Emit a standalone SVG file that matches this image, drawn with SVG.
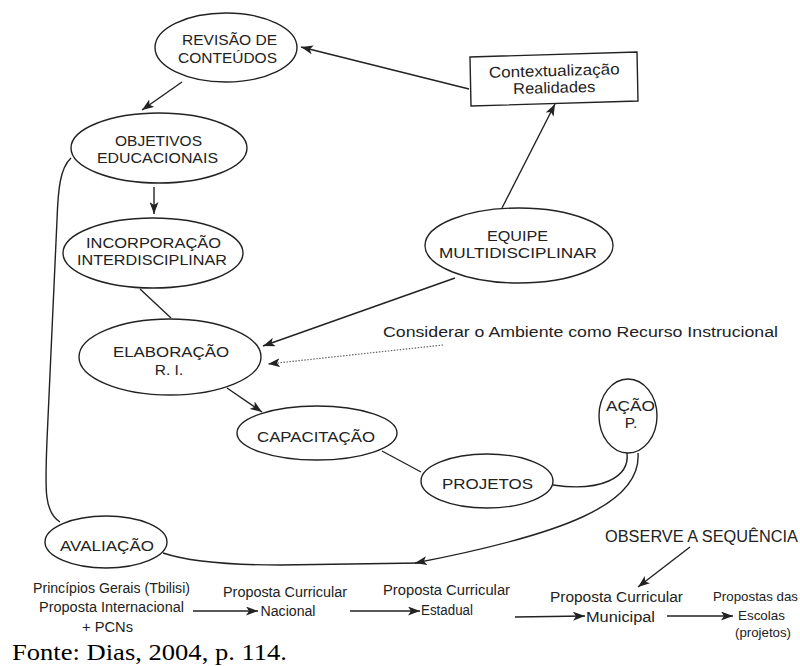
<svg xmlns="http://www.w3.org/2000/svg" width="800" height="666" viewBox="0 0 800 666">
<style>
.n{fill:#fff;stroke:#222;stroke-width:1.4}
.t{font-family:"Liberation Sans",Arial,sans-serif;font-size:15.5px;fill:#222;text-anchor:middle}
.s{font-family:"Liberation Sans",Arial,sans-serif;font-size:14px;fill:#222;text-anchor:middle}
.c{fill:none;stroke:#222;stroke-width:1.4}
.d{fill:none;stroke:#666;stroke-width:1.2;stroke-dasharray:1.5 1.5}
</style>
<defs>
<marker id="a" markerUnits="userSpaceOnUse" markerWidth="13" markerHeight="9" refX="12" refY="4.5" orient="auto">
<path d="M0,0 L12,4.5 L0,9 L3,4.5 z" fill="#222"/>
</marker>
</defs>
<rect width="800" height="666" fill="#fff"/>
<g id="connectors">
<line class="c" x1="469" y1="89" x2="301" y2="47" marker-end="url(#a)"/>
<line class="c" x1="182" y1="82" x2="142" y2="110" marker-end="url(#a)"/>
<line class="c" x1="154" y1="187" x2="154" y2="214" marker-end="url(#a)"/>
<line class="c" x1="140" y1="289" x2="171" y2="318"/>
<line class="c" x1="502" y1="208" x2="555" y2="104" marker-end="url(#a)"/>
<line class="c" x1="455" y1="278" x2="263" y2="346" marker-end="url(#a)"/>
<line class="d" x1="443" y1="345" x2="268" y2="364" marker-end="url(#a)"/>
<line class="c" x1="227" y1="388" x2="262" y2="412" marker-end="url(#a)"/>
<line class="c" x1="382" y1="451" x2="421" y2="472"/>
<path class="c" d="M553,485 C600,492 630,478 627,453"/>
<path class="c" d="M638,453 C642,505 560,535 415,563" marker-end="url(#a)"/>
<path class="c" d="M420,563 L280,565 C230,565 190,562 163,553"/>
<path class="c" d="M71,158 C60,168 58,190 57,220 L47,440 C45,490 44,512 60,522"/>
<line class="c" x1="690" y1="547" x2="638" y2="587" marker-end="url(#a)"/>
<line class="c" x1="193" y1="611" x2="258" y2="611" marker-end="url(#a)"/>
<line class="c" x1="350" y1="611" x2="420" y2="611" marker-end="url(#a)"/>
<line class="c" x1="515" y1="617" x2="585" y2="616" marker-end="url(#a)"/>
<line class="c" x1="667" y1="616" x2="733" y2="616" marker-end="url(#a)"/>
</g>
<g id="revisao">
<ellipse class="n" cx="226" cy="47.5" rx="71" ry="34.5"/>
<text class="t" x="229.5" y="45" textLength="95" lengthAdjust="spacingAndGlyphs">REVISÃO DE</text>
<text class="t" x="227.5" y="63" textLength="99" lengthAdjust="spacingAndGlyphs">CONTEÚDOS</text>
</g>
<g id="contextualizacao">
<polygon class="n" points="470,57 637,52 638,101 471,106"/>
<g transform="rotate(-1.5 554 80)">
<text class="t" x="554.5" y="76" textLength="131" lengthAdjust="spacingAndGlyphs">Contextualização</text>
<text class="t" x="554" y="93" textLength="82" lengthAdjust="spacingAndGlyphs">Realidades</text>
</g>
</g>
<g id="objetivos">
<ellipse class="n" cx="159" cy="148" rx="88" ry="35"/>
<text class="t" x="158.5" y="146" textLength="87" lengthAdjust="spacingAndGlyphs">OBJETIVOS</text>
<text class="t" x="157.5" y="163" textLength="121" lengthAdjust="spacingAndGlyphs">EDUCACIONAIS</text>
</g>
<g id="incorporacao">
<ellipse class="n" cx="153" cy="253" rx="90" ry="35"/>
<text class="t" x="153.5" y="248" textLength="135" lengthAdjust="spacingAndGlyphs">INCORPORAÇÃO</text>
<text class="t" x="152" y="265" textLength="150" lengthAdjust="spacingAndGlyphs">INTERDISCIPLINAR</text>
</g>
<g id="equipe">
<ellipse class="n" cx="519" cy="245.5" rx="94" ry="37.5"/>
<text class="t" x="517.5" y="241" textLength="61" lengthAdjust="spacingAndGlyphs">EQUIPE</text>
<text class="t" x="518" y="258" textLength="158" lengthAdjust="spacingAndGlyphs">MULTIDISCIPLINAR</text>
</g>
<g id="considerar">
<text class="t" x="383" y="337" style="text-anchor:start" textLength="395" lengthAdjust="spacingAndGlyphs">Considerar o Ambiente como Recurso Instrucional</text>
</g>
<g id="elaboracao">
<ellipse class="n" cx="170" cy="357" rx="91" ry="38"/>
<text class="t" x="171" y="357" textLength="116" lengthAdjust="spacingAndGlyphs">ELABORAÇÃO</text>
<text class="t" x="169" y="375">R. I.</text>
</g>
<g id="capacitacao">
<ellipse class="n" cx="317" cy="433" rx="80" ry="27"/>
<text class="t" x="316" y="442" textLength="118" lengthAdjust="spacingAndGlyphs">CAPACITAÇÃO</text>
</g>
<g id="projetos">
<ellipse class="n" cx="487" cy="481" rx="66" ry="27"/>
<text class="t" x="487.5" y="489" textLength="91" lengthAdjust="spacingAndGlyphs">PROJETOS</text>
</g>
<g id="acao">
<ellipse class="n" cx="628" cy="416" rx="29" ry="37"/>
<text class="t" x="630.5" y="411" textLength="49" lengthAdjust="spacingAndGlyphs">AÇÃO</text>
<text class="t" x="631" y="428">P.</text>
</g>
<g id="avaliacao">
<ellipse class="n" cx="106" cy="542" rx="61" ry="26"/>
<text class="t" x="107" y="551" textLength="94" lengthAdjust="spacingAndGlyphs">AVALIAÇÃO</text>
</g>
<g id="observe">
<text class="t" x="701.5" y="542" style="font-size:16px" textLength="193" lengthAdjust="spacingAndGlyphs">OBSERVE A SEQUÊNCIA</text>
</g>
<g id="internacional">
<text class="s" x="111.5" y="593" textLength="157" lengthAdjust="spacingAndGlyphs">Princípios Gerais (Tbilisi)</text>
<text class="s" x="111.5" y="612" textLength="145" lengthAdjust="spacingAndGlyphs">Proposta Internacional</text>
<text class="s" x="107.5" y="632" textLength="51" lengthAdjust="spacingAndGlyphs">+ PCNs</text>
</g>
<g id="nacional">
<text class="s" x="285" y="597" textLength="124" lengthAdjust="spacingAndGlyphs">Proposta Curricular</text>
<text class="s" x="288" y="616" textLength="55" lengthAdjust="spacingAndGlyphs">Nacional</text>
</g>
<g id="estadual">
<text class="s" x="446.5" y="595" textLength="127" lengthAdjust="spacingAndGlyphs">Proposta Curricular</text>
<text class="s" x="447" y="615" textLength="52" lengthAdjust="spacingAndGlyphs">Estadual</text>
</g>
<g id="municipal">
<text class="s" x="616.5" y="602" textLength="133" lengthAdjust="spacingAndGlyphs">Proposta Curricular</text>
<text class="s" x="620.5" y="622" textLength="69" lengthAdjust="spacingAndGlyphs">Municipal</text>
</g>
<g id="escolas">
<text class="s" x="755.5" y="601" style="font-size:13px" textLength="85" lengthAdjust="spacingAndGlyphs">Propostas das</text>
<text class="s" x="761.5" y="620" style="font-size:13px" textLength="47" lengthAdjust="spacingAndGlyphs">Escolas</text>
<text class="s" x="763" y="637" style="font-size:13px" textLength="56" lengthAdjust="spacingAndGlyphs">(projetos)</text>
</g>
<g id="fonte">
<text x="12" y="660" style="font-family:'Liberation Serif','Times New Roman',serif;font-size:23px;fill:#000" textLength="275" lengthAdjust="spacingAndGlyphs">Fonte: Dias, 2004, p. 114.</text>
</g>
</svg>
